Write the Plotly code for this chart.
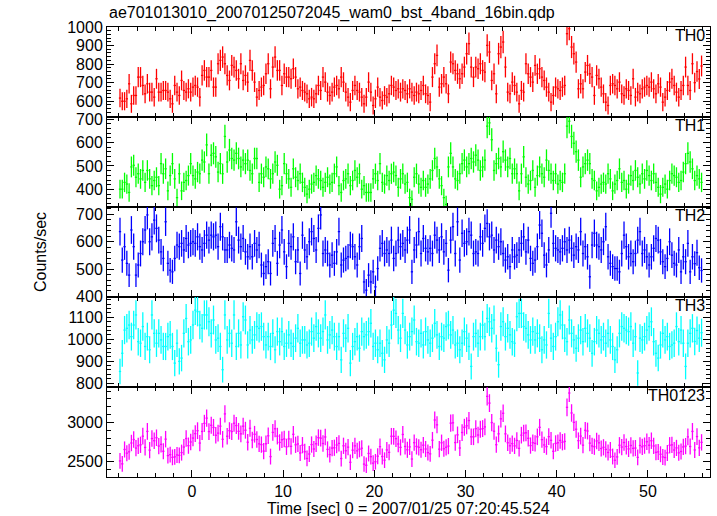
import numpy as np
import plotly.graph_objects as go
from plotly.subplots import make_subplots

# ---------------- data (count rates, counts/sec, 0.25 s bins starting at t=-8 s) -------------
T_START = -8.0
BIN = 0.25

th0 = [
    617, 600, 600, 613, 694, 586, 631, 631, 730, 730,
    685, 640, 694, 649, 649, 622, 721, 649, 649, 658,
    658, 649, 613, 586, 685, 649, 631, 712, 658, 649,
    667, 649, 676, 685, 676, 622, 739, 766, 730, 730,
    766, 676, 676, 802, 820, 838, 802, 739, 712, 793,
    784, 766, 721, 802, 712, 739, 703, 820, 766, 703,
    622, 658, 676, 685, 748, 802, 667, 784, 838, 766,
    766, 685, 748, 730, 730, 721, 775, 730, 667, 676,
    658, 649, 640, 613, 622, 613, 640, 685, 658, 730,
    703, 649, 631, 649, 676, 685, 667, 730, 703, 649,
    622, 595, 658, 685, 658, 649, 622, 586, 622, 703,
    649, 577, 613, 676, 622, 604, 631, 622, 640, 685,
    676, 658, 667, 649,
    667, 658, 640, 667, 649, 631, 649, 640, 658, 685,
    640, 631, 595, 730, 802, 847, 676, 694, 730, 694,
    640, 811, 802, 766, 748, 721, 748, 784, 856, 910,
    784, 730, 784, 775, 802, 766, 757, 901, 865, 712,
    748, 640, 856, 892, 919, 784, 649, 640, 703, 685,
    649, 586, 658, 649, 802, 748, 730, 703, 793, 748,
    775, 730, 712, 676, 649, 595, 631, 676, 667, 658,
    676, 685, 964, 991, 892, 856, 811, 667, 694, 667,
    757, 793, 748, 730, 631, 739, 721, 676, 640, 595,
    577, 685, 694, 685, 667, 703, 640, 631, 667, 658,
    631, 721, 622, 649, 640, 667, 676, 685, 676, 703,
    667, 640, 694, 676, 595, 622, 658, 703, 721, 685,
    649, 622, 658, 685, 784, 685, 658, 802, 700, 760,
    720, 790,
]

th1 = [
    401, 401, 430, 423, 387, 496, 503, 452, 467, 445,
    481, 430, 481, 445, 416, 438, 452, 416, 510, 467,
    488, 394, 459, 510, 445, 365, 467, 394, 430, 438,
    459, 510, 459, 445, 474, 467, 525, 517, 590, 467,
    546, 554, 539, 474, 510, 467, 626, 517, 568, 532,
    525, 554, 532, 496, 525, 510, 525, 481, 467, 532,
    532, 430, 467, 452, 496, 488, 445, 467, 517, 503,
    401, 416, 510, 467, 445, 409, 488, 452, 438, 467,
    430, 409, 380, 401, 423, 430, 459, 445, 438, 409,
    430, 452, 423, 430, 467, 496, 416, 387, 438, 445,
    467, 416, 438, 481, 452, 467, 401, 416, 387, 387,
    387, 445, 467, 438, 510, 430, 423, 459, 438, 467,
    474, 459, 409, 445,
    467, 423, 430, 365, 358, 452, 467, 423, 409, 438,
    409, 423, 445, 481, 532, 496, 445, 416, 365, 336,
    496, 554, 496, 445, 438, 467, 510, 525, 496, 510,
    532, 517, 546, 525, 481, 496, 525, 670, 684, 612,
    481, 510, 532, 496, 561, 525, 496, 532, 467, 488,
    467, 394, 467, 539, 452, 423, 438, 481, 409, 459,
    496, 467, 452, 525, 481, 467, 438, 467, 423, 438,
    430, 467, 670, 691, 626, 597, 561, 525, 452, 496,
    510, 525, 510, 445, 438, 394, 409, 423, 430, 423,
    467, 445, 394, 423, 438, 488, 430, 438, 401, 423,
    459, 438, 481, 452, 423, 467, 445, 481, 459, 438,
    467, 430, 409, 380, 409, 423, 401, 438, 467, 459,
    452, 430, 438, 474, 510, 554, 517, 488, 438, 459,
    445, 430,
]

th2 = [
    637, 533, 582, 521, 478, 643, 582, 478, 515, 557,
    600, 643, 698, 600, 618, 679, 649, 606, 563, 539,
    673, 521, 496, 490, 539, 588, 582, 594, 570, 612,
    588, 594, 600, 594, 618, 582, 570, 594, 624, 606,
    624, 618, 624, 582, 655, 618, 570, 570, 588, 576,
    570, 673, 606, 582, 612, 563, 545, 582, 545, 594,
    570, 588, 515, 484, 509, 527, 484, 594, 612, 521,
    588, 643, 563, 509, 594, 582, 618, 527, 570, 484,
    624, 570, 545, 600, 637, 612, 570, 649, 698, 557,
    570, 557, 515, 551, 521, 563, 637, 515, 533, 539,
    545, 588, 582, 545, 515, 582, 612, 453, 423, 478,
    453, 490, 435, 502, 576, 594, 557, 570, 557, 606,
    539, 557, 606, 582,
    594, 570, 606, 643, 490, 570, 588, 637, 557, 612,
    576, 563, 576, 557, 624, 606, 570, 618, 563, 594,
    496, 606, 655, 557, 673, 533, 631, 594, 600, 637,
    624, 557, 563, 557, 618, 594, 649, 667, 618, 624,
    570, 606, 582, 600, 557, 533, 545, 509, 570, 545,
    551, 570, 594, 618, 563, 606, 539, 521, 533, 582,
    661, 631, 551, 515, 570, 704, 594, 576, 570, 563,
    576, 600, 570, 606, 576, 551, 582, 570, 637, 557,
    582, 545, 472, 588, 631, 588, 582, 570, 600, 655,
    545, 521, 509, 502, 502, 490, 557, 624, 582, 545,
    557, 527, 557, 606, 637, 557, 570, 545, 515, 545,
    576, 612, 606, 563, 527, 509, 539, 600, 551, 521,
    515, 570, 490, 545, 527, 594, 490, 545, 520, 560,
    505, 495,
]

th3 = [
    853, 936, 1042, 1050, 1065, 1012, 1065, 1111, 989, 982,
    1058, 967, 1012, 952, 1111, 1027, 982, 1027, 997, 967,
    967, 1012, 1020, 967, 891, 982, 899, 914, 1027, 1095,
    989, 997, 1065, 1133, 1126, 1065, 1050, 1111, 1111, 1080,
    1027, 1088, 997, 1005, 967, 861, 1111, 997, 1027, 982,
    1111, 967, 1027, 974, 1103, 1088, 974, 1042, 997, 1020,
    1058, 1050, 1058, 1012, 974, 1012, 967, 1027, 952, 1035,
    989, 1035, 967, 982, 1020, 982, 967, 1005, 1050, 982,
    997, 997, 974, 982, 1035, 1005, 1058, 1027, 1005, 1035,
    1111, 997, 1020, 1042, 1012, 967, 1012, 906, 1027, 1005,
    1050, 891, 967, 989, 1012, 959, 1035, 1012, 1020, 1035,
    1073, 967, 982, 952, 982, 936, 906, 997, 982, 1065,
    1133, 1118, 1042, 1005,
    1118, 1042, 974, 1012, 1035, 1088, 989, 982, 1027, 974,
    1035, 997, 982, 1005, 1073, 1020, 967, 1012, 1005, 1058,
    1065, 1020, 1042, 974, 982, 952, 982, 1035, 1005, 967,
    876, 1012, 1027, 982, 1012, 1065, 1012, 1095, 1080, 1050,
    1088, 959, 884, 1058, 1080, 1012, 1050, 1020, 989, 982,
    1103, 1118, 1118, 1058, 1050, 1020, 997, 1035, 997, 1027,
    1005, 952, 997, 974, 1118, 1005, 967, 1012, 1080, 1111,
    1065, 1005, 989, 1088, 1027, 997, 959, 1005, 1042, 989,
    1050, 1027, 1005, 936, 989, 1042, 1027, 997, 1012, 982,
    1027, 997, 967, 906, 952, 1027, 1058, 1050, 1042, 1035,
    1058, 982, 1012, 846, 1005, 997, 1012, 1042, 1058, 1080,
    989, 936, 914, 974, 1027, 997, 1012, 967, 974, 982,
    1058, 989, 1042, 982, 876, 982, 1027, 1050, 990, 1040,
    1005, 1030,
]

panel_names = ["TH0", "TH1", "TH2", "TH3", "TH0123"]
colors = ["#ff0000", "#00ff00", "#0000ff", "#00ffff", "#ff00ff"]
y_ranges = [[515, 1000], [325, 709], [398, 727], [782, 1193], [2302, 3453]]
y_dticks = [100, 100, 100, 100, 500]
y_minor = [20, 20, 20, 20, 100]
x_range = [-9.3, 56.8]
title_text = "ae701013010_20070125072045_wam0_bst_4band_16bin.qdp"
x_title = "Time [sec] 0 = 2007/01/25 07:20:45.524"
y_title = "Counts/sec"

# ---------------- build ----------------
n = min(len(th0), len(th1), len(th2), len(th3))
bands = [np.array(a[:n], dtype=float) for a in (th0, th1, th2, th3)]
bands.append(bands[0] + bands[1] + bands[2] + bands[3])  # TH0123 = sum of the four bands
t = T_START + BIN * (np.arange(n) + 0.5)

FONT = "Liberation Sans, Arial, Helvetica, sans-serif"
FS = 16

fig = make_subplots(rows=5, cols=1, shared_xaxes=True, vertical_spacing=0)

for i, (rate, col) in enumerate(zip(bands, colors)):
    err = np.sqrt(rate * BIN) / BIN  # Poisson error of the binned rate
    fig.add_trace(
        go.Scatter(
            x=t, y=rate, mode="markers",
            marker=dict(size=0.001, color=col),
            error_x=dict(type="data", array=np.full(n, BIN / 2), width=0, thickness=1.3, color=col),
            error_y=dict(type="data", array=err, width=0, thickness=1.3, color=col),
            showlegend=False, hoverinfo="skip",
        ),
        row=i + 1, col=1,
    )
    fig.update_yaxes(
        row=i + 1, col=1,
        range=y_ranges[i], dtick=y_dticks[i], tick0=0,
        ticks="inside", ticklen=7, tickwidth=1, tickcolor="black",
        showline=True, linecolor="black", linewidth=1, mirror="ticks",
        showgrid=False, zeroline=False, automargin=False,
        minor=dict(ticks="inside", ticklen=4, dtick=y_minor[i], tick0=0,
                   tickcolor="black", showgrid=False),
        tickfont=dict(family=FONT, size=FS, color="black"),
    )
    fig.update_xaxes(
        row=i + 1, col=1,
        range=x_range, dtick=10, tick0=0,
        ticks="inside", ticklen=7, tickwidth=1, tickcolor="black",
        showline=True, linecolor="black", linewidth=1, mirror="ticks",
        showgrid=False, zeroline=False, automargin=False,
        minor=dict(ticks="inside", ticklen=4, dtick=2, tick0=0,
                   tickcolor="black", showgrid=False),
        tickfont=dict(family=FONT, size=FS, color="black"),
        showticklabels=(i == 4),
    )
    yref = "y domain" if i == 0 else f"y{i + 1} domain"
    fig.add_annotation(
        text=panel_names[i], xref="x domain", yref=yref, x=1, y=1,
        xanchor="right", yanchor="top", xshift=-3, yshift=2, showarrow=False,
        font=dict(family=FONT, size=FS, color="black"),
    )

fig.add_annotation(
    text=title_text, xref="paper", yref="paper", x=0, y=1, xanchor="left",
    yanchor="bottom", yshift=3, showarrow=False,
    font=dict(family=FONT, size=FS, color="black"),
)
fig.add_annotation(
    text=x_title, xref="paper", yref="paper", x=0.5, y=0, xanchor="center",
    yanchor="top", yshift=-21, showarrow=False,
    font=dict(family=FONT, size=FS, color="black"),
)
fig.add_annotation(
    text=y_title, xref="paper", yref="paper", x=0, y=0.5, xanchor="center",
    yanchor="middle", xshift=-67, textangle=-90, showarrow=False,
    font=dict(family=FONT, size=FS, color="black"),
)

fig.update_layout(
    width=717, height=516,
    margin=dict(l=107, r=7, t=27, b=39, autoexpand=False),
    paper_bgcolor="white", plot_bgcolor="white",
    font=dict(family=FONT, size=FS, color="black"),
)

fig.write_html("out.html", config={"displayModeBar": False},
               post_script="document.body.style.margin='0px';")
